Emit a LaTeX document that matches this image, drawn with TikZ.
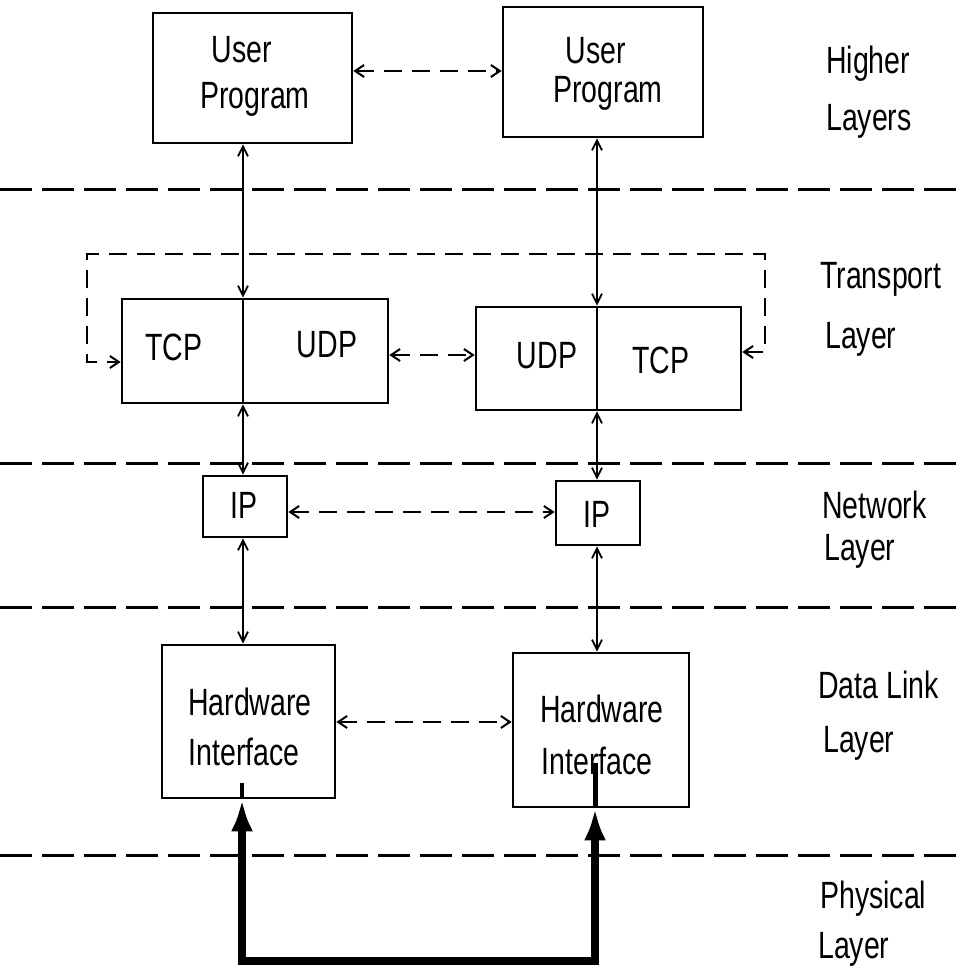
\documentclass[tikz,border=0pt]{standalone}
\usepackage{fontspec}
\setmainfont{Liberation Sans}[FakeStretch=0.75]
\usetikzlibrary{arrows.meta,calc}
\begin{document}
\begin{tikzpicture}[x=1pt,y=-1pt,
  box/.style={draw,line width=2.7pt,rectangle,inner sep=0pt},
  txt/.style={inner sep=0pt,anchor=base,font=\fontsize{38}{40}\selectfont},
  lbl/.style={inner sep=0pt,anchor=base west,font=\fontsize{38}{40}\selectfont},
  layerline/.style={line width=3pt,dash pattern=on 32pt off 10pt},
  peer/.style={line width=2pt,dash pattern=on 18pt off 10pt,{Straight Barb[length=9pt,width=12pt]}-{Straight Barb[length=9pt,width=12pt]}},
  vert/.style={line width=1.8pt,{Straight Barb[length=10pt,width=10pt]}-{Straight Barb[length=10pt,width=10pt]}},
  phys/.style={line width=8pt,{Latex[length=32pt,width=22pt]}-{Latex[length=32pt,width=22pt]}}
]
\useasboundingbox (0,0) rectangle (965,969);

% layer separators
\coordinate (l1a) at (0,189); \coordinate (l1b) at (965,189);
\coordinate (l2a) at (0,463); \coordinate (l2b) at (965,463);
\coordinate (l3a) at (0,607); \coordinate (l3b) at (965,607);
\coordinate (l4a) at (0,855); \coordinate (l4b) at (965,855);
\draw[layerline] (l1a) -- (l1b);
\draw[layerline] (l2a) -- (l2b);
\draw[layerline] (l3a) -- (l3b);
\draw[layerline] (l4a) -- (l4b);

% column coordinates
\coordinate (xL) at (243,0);
\coordinate (xR) at (597,0);

% boxes
\node[box,minimum width=199pt,minimum height=130pt] (UPL) at (252.5,78) {};
\node[box,minimum width=200pt,minimum height=130pt] (UPR) at (603,72) {};
\node[box,minimum width=266pt,minimum height=104pt] (TL) at (255,351) {};
\node[box,minimum width=265pt,minimum height=103pt] (TR) at (608.5,358.5) {};
\node[box,minimum width=84pt,minimum height=61pt] (IPL) at (245,506.5) {};
\node[box,minimum width=84pt,minimum height=64pt] (IPR) at (598,513) {};
\node[box,minimum width=173pt,minimum height=153pt] (HWL) at (248.5,721.5) {};
\node[box,minimum width=176pt,minimum height=154pt] (HWR) at (601,730) {};

% dividers in transport boxes
\draw[line width=2.2pt] (TL.north -| xL) -- (TL.south -| xL);
\draw[line width=2.2pt] (TR.north -| xR) -- (TR.south -| xR);

% texts
\node[txt] (tUPL1) at (242,62) {User};
\node[txt] (tUPL2) at (255,108) {Program};
\node[txt] (tUPR1) at (596,63) {User};
\node[txt] (tUPR2) at (608,102) {Program};
\node[txt] (tTCPL) at (174,360) {TCP};
\node[txt] (tUDPL) at (327,357) {UDP};
\node[txt] (tUDPR) at (547,368) {UDP};
\node[txt] (tTCPR) at (661,373) {TCP};
\node[txt] (tIPL) at (244,518) {IP};
\node[txt] (tIPR) at (597,527) {IP};
\node[txt] (tHWL1) at (250,715) {Hardware};
\node[txt] (tHWL2) at (244,765) {Interface};
\node[txt] (tHWR1) at (602,722) {Hardware};
\node[txt] (tHWR2) at (597,774) {Interface};

% layer labels
\node[lbl] (h1) at (826,73) {Higher};
\node[lbl] (h2) at (826,130) {Layers};
\node[lbl] (t1) at (820,288) {Transport};
\node[lbl] (t2) at (825,348) {Layer};
\node[lbl] (n1) at (822,518) {Network};
\node[lbl] (n2) at (824,560) {Layer};
\node[lbl] (d1) at (818,698) {Data Link};
\node[lbl] (d2) at (823,752) {Layer};
\node[lbl] (p1) at (820,908) {Physical};
\node[lbl] (p2) at (818,958) {Layer};

% peer (dashed) connections
\coordinate (yUP) at (0,71);
\coordinate (yUDP) at (0,355);
\coordinate (yIP) at (0,512);
\coordinate (yHW) at (0,722);
\draw[peer] (UPL.east |- yUP) -- (UPR.west |- yUP);
\draw[peer] (TL.east |- yUDP) -- (TR.west |- yUDP);
\draw[peer] (IPL.east |- yIP) -- (IPR.west |- yIP);
\draw[peer] (HWL.east |- yHW) -- (HWR.west |- yHW);

% TCP-TCP loop
\coordinate (yTL) at (0,362);
\coordinate (yTR) at (0,352);
\coordinate (loopR) at (765,254);
\coordinate (loopL) at (87,254);
\draw[peer] (TR.east |- yTR) -| (loopR) -- (loopL) |- (TL.west |- yTL);

% vertical interlayer connections
\draw[vert] (UPL.south -| xL) -- (TL.north -| xL);
\draw[vert] (TL.south -| xL) -- (IPL.north -| xL);
\draw[vert] (IPL.south -| xL) -- (HWL.north -| xL);
\draw[vert] (UPR.south -| xR) -- (TR.north -| xR);
\draw[vert] (TR.south -| xR) -- (IPR.north -| xR);
\draw[vert] (IPR.south -| xR) -- (HWR.north -| xR);

% physical link
\coordinate (pL) at (242,0);
\coordinate (pR) at (595,0);
\coordinate (pB) at (0,961);
\draw[phys,line join=miter] (HWL.south -| pL) -- (pL |- pB) -- (pR |- pB) -- (HWR.south -| pR);
\coordinate (sL) at (242,783);
\coordinate (sR) at (595,763);
\draw[line width=3.5pt] (sL) -- (HWL.south -| pL);
\draw[line width=5pt] (sR) -- (HWR.south -| pR);
\end{tikzpicture}
\end{document}
